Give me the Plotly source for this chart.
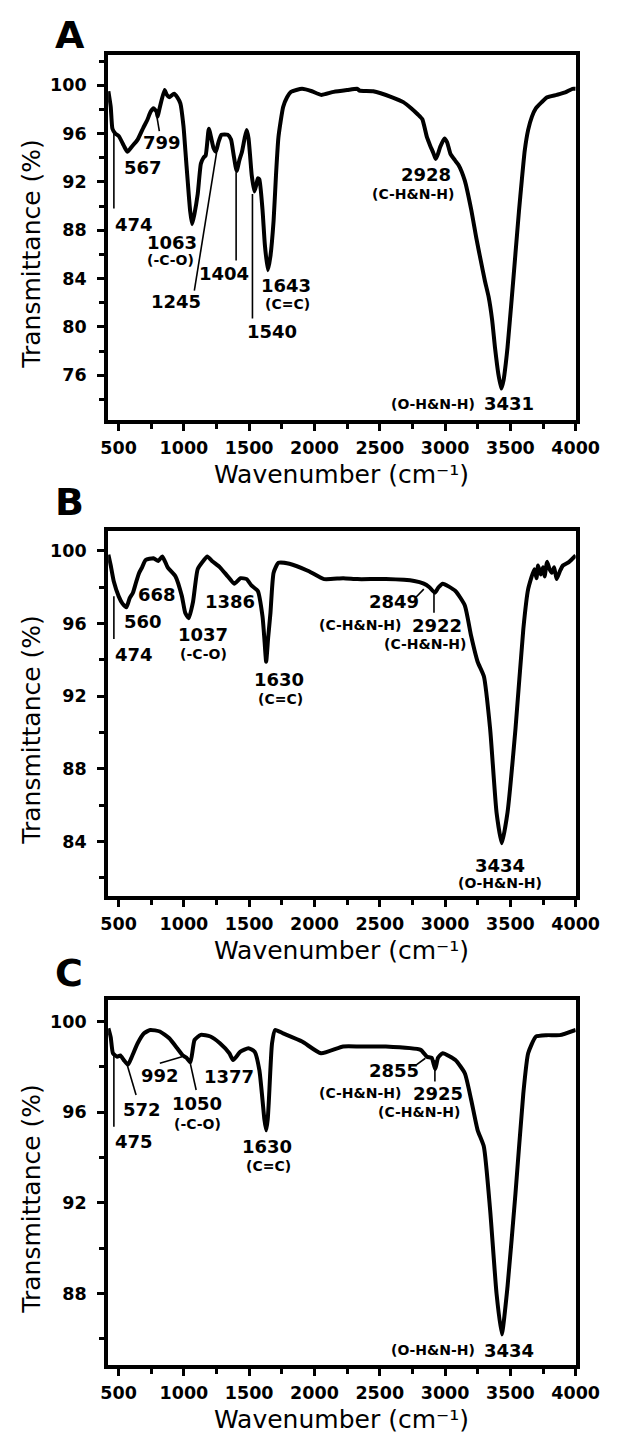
import plotly.graph_objects as go

# ---- spectra (wavenumber in cm-1, transmittance in %) ----
wn_a = [422, 440, 453, 475, 501, 540, 567, 600, 646, 690, 719, 745, 767, 791, 799, 812,
        852, 870, 888, 925, 950, 973, 997, 1012, 1029, 1048, 1063, 1080, 1106, 1130, 1150,
        1167, 1191, 1210, 1227, 1245, 1265, 1288, 1336, 1361, 1380, 1404, 1425, 1445, 1465,
        1481, 1495, 1506, 1520, 1540, 1556, 1566, 1578, 1602, 1620, 1643, 1662, 1687, 1705,
        1724, 1760, 1790, 1820, 1905, 1980, 2050, 2147, 2250, 2329, 2345, 2450, 2595, 2680,
        2740, 2790, 2825, 2861, 2886, 2910, 2928, 2945, 2963, 2995, 3015, 3042, 3075, 3103,
        3151, 3200, 3240, 3273, 3305, 3333, 3360, 3382, 3408, 3431, 3448, 3465, 3478, 3510,
        3539, 3565, 3587, 3610, 3636, 3665, 3696, 3740, 3781, 3854, 3920, 3975, 4000]
t_a = [99.5, 98.2, 96.4, 96.0, 95.8, 95.0, 94.5, 94.9, 95.5, 96.5, 97.1, 97.8, 98.1, 97.8, 97.4, 98.0,
       99.6, 99.2, 99.0, 99.3, 99.0, 98.5, 96.6, 94.5, 92.1, 89.6, 88.5, 89.3, 91.0, 93.5, 94.0,
       94.2, 96.4, 95.6, 94.8, 94.5, 95.3, 95.9, 95.9, 95.5, 94.3, 92.9, 93.8, 94.5, 95.6,
       96.3, 95.6, 94.3, 92.5, 91.2, 91.8, 92.3, 92.2, 89.7, 86.8, 84.7, 85.8, 88.8, 92.5,
       95.7, 98.2, 99.0, 99.45, 99.7, 99.5, 99.2, 99.45, 99.6, 99.7, 99.55, 99.5, 99.0, 98.6,
       98.1, 97.6, 97.2, 95.7, 95.0, 94.4, 93.9, 94.3, 94.9, 95.6, 95.3, 94.3, 93.8, 93.4,
       92.1, 89.7, 87.3, 85.5, 83.8, 82.5, 80.6, 78.3, 76.1, 74.9, 75.6, 77.0, 78.3, 82.3,
       86.1, 89.5, 92.1, 94.6, 96.3, 97.4, 98.1, 98.6, 99.0, 99.2, 99.4, 99.7, 99.7]

wn_b = [422, 440, 464, 501, 530, 560, 585, 610, 635, 658, 680, 707, 767, 804, 835, 876,
        936, 985, 1010, 1037, 1070, 1106, 1154, 1179, 1215, 1276, 1336, 1386, 1433, 1481,
        1517, 1566, 1602, 1618, 1630, 1645, 1663, 1687, 1724, 1808, 1953, 2074, 2220, 2329,
        2546, 2764, 2837, 2880, 2922, 2950, 2982, 3079, 3151, 3200, 3249, 3297, 3345, 3394,
        3434, 3478, 3539, 3599, 3636, 3684, 3700, 3712, 3732, 3750, 3762, 3781, 3800, 3817,
        3835, 3854, 3880, 3902, 3950, 4000]
t_b = [99.8, 99.2, 98.3, 97.5, 97.1, 96.9, 97.4, 97.7, 98.3, 98.8, 99.1, 99.5, 99.6, 99.45, 99.7, 99.1,
       98.6, 97.5, 96.6, 96.3, 97.2, 99.0, 99.5, 99.7, 99.45, 99.1, 98.6, 98.2, 98.5, 98.45,
       98.1, 97.8, 96.4, 95.0, 93.9, 95.2, 96.6, 98.8, 99.35, 99.3, 98.9, 98.45, 98.5, 98.45,
       98.45, 98.35, 98.2, 98.0, 97.7, 98.0, 98.2, 97.8, 97.0, 95.3, 93.9, 93.1, 90.2, 85.6,
       83.9, 85.6, 90.2, 95.7, 97.9, 99.0, 98.5, 99.2, 98.7, 99.1, 98.6, 99.4, 99.0, 98.8,
       99.1, 98.45, 98.9, 99.2, 99.4, 99.75]

wn_c = [422, 440, 457, 489, 513, 540, 572, 598, 646, 695, 743, 816, 888, 949, 992, 1020,
        1050, 1082, 1130, 1203, 1276, 1348, 1377, 1433, 1494, 1542, 1578, 1602, 1616, 1630,
        1642, 1651, 1675, 1699, 1760, 1905, 2050, 2220, 2353, 2546, 2813, 2861, 2897, 2925,
        2946, 2982, 3079, 3151, 3200, 3249, 3297, 3345, 3394, 3434, 3478, 3539, 3599, 3636,
        3696, 3781, 3878, 4000]
t_c = [99.7, 99.3, 98.6, 98.45, 98.5, 98.3, 98.1, 98.4, 99.04, 99.48, 99.63, 99.56, 99.26, 98.82, 98.5, 98.4,
       98.2, 99.19, 99.41, 99.34, 99.04, 98.6, 98.3, 98.67, 98.82, 98.67, 97.86, 96.54, 95.7, 95.2,
       95.7, 96.54, 99.04, 99.63, 99.48, 99.12, 98.6, 98.9, 98.9, 98.9, 98.75, 98.45, 98.4, 97.9,
       98.4, 98.6, 98.3, 97.72, 96.54, 95.21, 94.48, 91.68, 88.0, 86.2, 88.3, 92.42, 96.83, 98.6,
       99.34, 99.4, 99.4, 99.63]

# ---- peak labels: (text, x, y, font size, x anchor) ----
labels_a = [("474", 455, 88.5, 18, "left"), ("567", 687, 93.2, 18, "center"),
            ("799", 834, 95.25, 18, "center"), ("1063", 907, 87.0, 18, "center"),
            ("(-C-O)", 894, 85.5, 14, "center"), ("1245", 942, 82.1, 18, "center"),
            ("1404", 1305, 84.4, 18, "center"), ("1540", 1675, 79.65, 18, "center"),
            ("1643", 1785, 83.4, 18, "center"), ("(C=C)", 1791, 81.9, 14, "center"),
            ("2928", 2855, 92.6, 18, "center"), ("(C-H&N-H)", 2752, 91.0, 14, "center"),
            ("(O-H&N-H)", 3244, 73.65, 14, "right"), ("3431", 3280, 73.65, 18, "left")]
labels_b = [("474", 455, 94.3, 18, "left"), ("560", 687, 96.1, 18, "center"),
            ("668", 791, 97.6, 18, "center"), ("1037", 1149, 95.4, 18, "center"),
            ("(-C-O)", 1154, 94.3, 14, "center"), ("1386", 1354, 97.2, 18, "center"),
            ("1630", 1730, 92.9, 18, "center"), ("(C=C)", 1740, 91.85, 14, "center"),
            ("2849", 2607, 97.2, 18, "center"), ("(C-H&N-H)", 2680, 95.9, 14, "right"),
            ("2922", 2730, 95.9, 18, "left"), ("(C-H&N-H)", 2843, 94.9, 14, "center"),
            ("3434", 3424, 82.7, 18, "center"), ("(O-H&N-H)", 3418, 81.7, 14, "center")]
labels_c = [("475", 455, 94.73, 18, "left"), ("572", 676, 96.13, 18, "center"),
            ("992", 816, 97.6, 18, "center"), ("1050", 1103, 96.39, 18, "center"),
            ("(-C-O)", 1106, 95.5, 14, "center"), ("1377", 1348, 97.57, 18, "center"),
            ("1630", 1638, 94.48, 18, "center"), ("(C=C)", 1651, 93.65, 14, "center"),
            ("2855", 2607, 97.83, 18, "center"), ("(C-H&N-H)", 2680, 96.83, 14, "right"),
            ("2925", 2742, 96.83, 18, "left"), ("(C-H&N-H)", 2801, 96.0, 14, "center"),
            ("(O-H&N-H)", 3244, 85.5, 14, "right"), ("3434", 3280, 85.5, 18, "left")]

# leader lines: (x0, y0, x1, y1)
leaders_a = [(464, 96.2, 464, 89.8), (795, 97.3, 812, 96.2), (1080, 83.0, 1250, 94.4),
             (1400, 92.8, 1400, 85.5), (1525, 91.0, 1525, 80.7)]
leaders_b = [(464, 97.5, 464, 95.15), (2777, 97.45, 2837, 97.9), (2915, 97.7, 2915, 96.6)]
leaders_c = [(464, 98.6, 464, 95.36), (562, 98.16, 634, 96.76), (816, 98.16, 985, 98.45),
             (1046, 98.23, 1094, 96.98), (2777, 98.08, 2849, 98.38), (2922, 98.3, 2922, 97.35)]

panel_names = ["A", "B", "C"]
y_ranges = [[72.3, 102.5], [81.0, 101.1], [84.85, 100.95]]
x_range = [420, 4000]

FONT = "DejaVu Sans"
W, H = 624, 1438

# panel boxes in pixels (top, bottom) and panel letter centres
boxes = [(47, 412), (523, 888), (992, 1357)]
letter_y = [30, 497, 968]
x_dom = [98 / W, 590 / W]

fig = go.Figure()
series = [(wn_a, t_a), (wn_b, t_b), (wn_c, t_c)]
all_labels = [labels_a, labels_b, labels_c]
all_leaders = [leaders_a, leaders_b, leaders_c]

axis_common = dict(
    showline=True, linecolor="black", linewidth=4, mirror=True,
    ticks="outside", tickwidth=3, ticklen=7, tickcolor="black",
    showgrid=False, zeroline=False,
    tickfont=dict(family=FONT, size=17.5, color="black", weight="bold"),
)

annotations = []
shapes = []
for i, (wn, t) in enumerate(series):
    sfx = "" if i == 0 else str(i + 1)
    fig.add_trace(go.Scatter(
        x=wn, y=t, mode="lines", xaxis="x" + sfx, yaxis="y" + sfx,
        line=dict(color="black", width=4, shape="spline", smoothing=0.5),
        hoverinfo="skip",
    ))
    top, bot = boxes[i]
    fig.update_layout({
        "xaxis" + sfx: dict(axis_common, domain=x_dom, range=x_range, anchor="y" + sfx,
                            tick0=500, dtick=500, ticklabelstandoff=2,
                            minor=dict(ticks="outside", dtick=250, tick0=500, ticklen=5,
                                       tickwidth=3, tickcolor="black")),
        "yaxis" + sfx: dict(axis_common, domain=[1 - bot / H, 1 - top / H], range=y_ranges[i],
                            anchor="x" + sfx, tick0=0, dtick=4, ticklabelstandoff=7,
                            minor=dict(ticks="outside", dtick=2, tick0=0, ticklen=5,
                                       tickwidth=3, tickcolor="black")),
    })
    for text, x, y, size, anchor in all_labels[i]:
        annotations.append(dict(
            text=text, x=x, y=y, xref="x" + sfx, yref="y" + sfx, showarrow=False,
            xanchor=anchor, yanchor="middle",
            font=dict(family=FONT, size=size, color="black", weight="bold"),
        ))
    for x0, y0, x1, y1 in all_leaders[i]:
        shapes.append(dict(type="line", xref="x" + sfx, yref="y" + sfx,
                           x0=x0, y0=y0, x1=x1, y1=y1,
                           line=dict(color="black", width=1.6)))
    # panel letter
    annotations.append(dict(
        text=panel_names[i], x=40 / W, y=1 - (letter_y[i] - 3) / H, xref="paper", yref="paper",
        showarrow=False, xanchor="left", yanchor="middle",
        font=dict(family=FONT, size=38, color="black", weight="bold"),
    ))
    # axis titles
    annotations.append(dict(
        text="Transmittance (%)", x=17 / W, y=1 - ((top + bot) / 2 + 17) / H,
        xref="paper", yref="paper", showarrow=False, textangle=-90,
        xanchor="center", yanchor="middle",
        font=dict(family=FONT, size=25, color="black"),
    ))
    annotations.append(dict(
        text="Wavenumber (cm\u207b\u00b9)", x=344 / W, y=1 - (bot + 54) / H,
        xref="paper", yref="paper", showarrow=False,
        xanchor="center", yanchor="middle",
        font=dict(family=FONT, size=25, color="black"),
    ))

fig.update_layout(
    width=W, height=H,
    margin=dict(l=0, r=0, t=0, b=0),
    paper_bgcolor="white", plot_bgcolor="white",
    showlegend=False,
    annotations=annotations,
    shapes=shapes,
)

fig.write_html("out.html")
